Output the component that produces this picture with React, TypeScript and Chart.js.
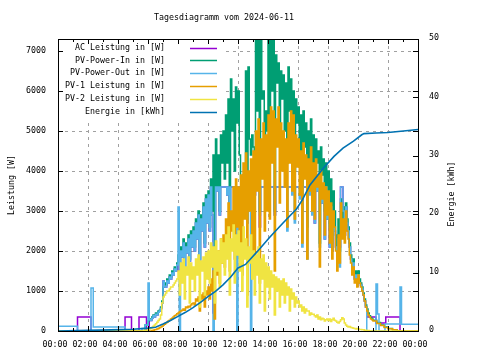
import React, { useEffect, useRef } from "react";
import { Chart, registerables } from "chart.js";
Chart.register(...registerables);

// ---------- texts & ticks ----------
const TITLE = "Tagesdiagramm vom 2024-06-11";
const Y_TITLE = "Leistung [W]";
const Y2_TITLE = "Energie [kWh]";
const X_TICKS = [0, 2, 4, 6, 8, 10, 12, 14, 16, 18, 20, 22, 24];
const X_TICK_LABELS = ["00:00", "02:00", "04:00", "06:00", "08:00", "10:00", "12:00", "14:00", "16:00", "18:00", "20:00", "22:00", "00:00"];
const Y_TICKS = [0, 1000, 2000, 3000, 4000, 5000, 6000, 7000];
const Y2_TICKS = [0, 10, 20, 30, 40, 50];
const Y_MAX = 7300;
const Y2_MAX = 50;
const SERIES_NAMES = ["AC Leistung in [W]", "PV-Power-In in [W]", "PV-Power-Out in [W]", "PV-1 Leistung in [W]", "PV-2 Leistung in [W]", "Energie in [kWh]"];
const SERIES_COLORS = ["#9400d3", "#009e73", "#56b4e9", "#e69f00", "#f0e442", "#0072b2"];

// ---------- data ----------
// daytime samples every 5 minutes from 06:00 to 20:55 (one row per hour)
const DAY_START_H = 6;
const DAY_STEP_H = 5 / 60;

const AC_DAY = [
  0, 280, 260, 320, 380, 350, 420, 400, 470, 500, 560, 700,
  1250, 1100, 1100, 1250, 1200, 1350, 1300, 1450, 1400, 1550, 1500, 1650,
  1500, 1350, 2000, 1850, 2200, 1550, 2100, 1950, 2300, 1750, 2400, 2100,
  2500, 2000, 2700, 2300, 2900, 1700, 2800, 2500, 3100, 2100, 3300, 2700,
  3400, 2500, 3600, 2900, 450, 1450, 3600, 3500, 3600, 2900, 3600, 3600,
  3600, 3600, 3600, 3400, 3600, 2900, 3600, 3600, 3600, 3600, 3600, 3600,
  3600, 3600, 3600, 2900, 3600, 3500, 3600, 2700, 3600, 3600, 3600, 3600,
  3600, 3400, 3600, 3600, 3600, 2600, 3600, 3600, 3600, 3600, 3600, 3600,
  3600, 3600, 3600, 3600, 3600, 2900, 3600, 3600, 3600, 3600, 3600, 3600,
  3600, 3600, 3600, 3600, 3600, 3600, 3600, 3600, 3600, 3600, 3600, 3600,
  3600, 3600, 3600, 3600, 3600, 3600, 3600, 3600, 3600, 3600, 3600, 3600,
  3600, 2700, 3600, 3500, 3600, 3600, 3600, 3200, 3600, 2300, 3600, 2800,
  3400, 2100, 3100, 2000, 2900, 2500, 2100, 1950, 2100, 2100, 3600, 3600,
  3000, 2400, 3100, 2700, 2500, 2100, 1800, 1500, 1700, 1300, 1400, 1200,
  1400, 1200, 1150, 1050, 900, 750, 600, 350, 350, 350, 350, 350,
];
const PV_IN_DAY = [
  250, 300, 280, 350, 400, 380, 450, 420, 500, 520, 600, 750,
  1100, 1200, 1150, 1300, 1250, 1400, 1350, 1500, 1450, 1600, 1550, 1700,
  1900, 1700, 2100, 1900, 2300, 1600, 2200, 2000, 2400, 1800, 2500, 2200,
  2600, 2100, 2800, 2400, 3000, 1800, 2900, 2600, 3200, 2200, 3400, 2800,
  3500, 2600, 3800, 3000, 4400, 1500, 4800, 3600, 4400, 3000, 4900, 4200,
  5000, 3800, 5400, 4200, 5800, 3000, 6300, 5000, 5800, 4000, 6100, 5200,
  6000, 4400, 3800, 3000, 3900, 3600, 6500, 2800, 6600, 4800, 4400, 4900,
  4600, 4100, 7500, 5500, 7500, 3000, 7400, 5800, 6000, 4000, 5500, 5000,
  7500, 4500, 7400, 6000, 7500, 3000, 6900, 6200, 6700, 4800, 6500, 5800,
  6400, 5000, 6200, 4200, 6600, 5500, 6300, 4800, 6000, 4000, 5800, 5200,
  5600, 4200, 5400, 3000, 5500, 4600, 5200, 2600, 5000, 4300, 5300, 3800,
  4900, 3500, 4800, 4200, 4500, 2200, 4600, 3900, 4300, 3000, 4200, 3500,
  4000, 2600, 3800, 2200, 3500, 3000, 2400, 1900, 2800, 2000, 3300, 2700,
  3100, 2500, 3200, 2800, 2600, 2200, 1900, 1600, 1800, 1400, 1500, 1300,
  1500, 1300, 1200, 1100, 950, 800, 650, 550, 450, 380, 330, 300,
];
const PV_OUT_DAY = [
  1200, 280, 260, 320, 380, 350, 420, 400, 470, 500, 560, 700,
  1250, 1100, 1100, 1250, 1200, 1350, 1300, 1450, 1400, 1550, 1500, 1650,
  3100, 0, 2000, 1850, 2200, 1550, 2100, 1950, 2300, 1750, 2400, 2100,
  2500, 2000, 2700, 2300, 2900, 1700, 2800, 2500, 3100, 2100, 3300, 2700,
  3400, 2500, 3600, 2900, 0, 1450, 3600, 3500, 3600, 2900, 3600, 3600,
  3600, 3600, 3600, 3400, 3600, 2900, 3600, 3600, 3600, 3600, 3600, 0,
  3600, 3600, 3600, 2900, 3600, 3500, 3600, 2700, 3600, 3600, 0, 3600,
  3600, 3400, 3600, 3600, 3600, 2900, 3600, 3600, 3600, 3600, 3600, 3600,
  3600, 3600, 3600, 3600, 3600, 2900, 3600, 3600, 3600, 3600, 3600, 3600,
  3600, 3600, 3600, 2500, 3600, 3600, 3600, 3400, 3600, 2700, 3600, 3600,
  3600, 3300, 3600, 2100, 3600, 3600, 3600, 1800, 3600, 3400, 3600, 2900,
  3600, 2700, 3600, 3500, 3600, 2100, 3600, 3200, 3600, 2300, 3600, 2800,
  3400, 2100, 3100, 2000, 2900, 2500, 2100, 1950, 2300, 1600, 3600, 3600,
  3000, 2400, 3100, 2700, 2500, 2100, 1800, 1500, 1700, 1300, 1400, 1200,
  1400, 1200, 1150, 1050, 900, 750, 600, 0, 0, 0, 0, 0,
];
const PV1_DAY = [
  0, 0, 0, 10, 20, 30, 40, 50, 60, 80, 100, 120,
  150, 170, 200, 220, 250, 270, 300, 320, 350, 380, 400, 430,
  450, 480, 500, 520, 550, 520, 600, 580, 620, 600, 650, 680,
  700, 650, 800, 750, 850, 500, 900, 800, 950, 600, 1000, 900,
  1100, 800, 1300, 1000, 1500, 300, 1800, 1400, 2000, 1200, 2300, 1700,
  2400, 1600, 2800, 2000, 3200, 1500, 3000, 2500, 3600, 1800, 3800, 2600,
  3600, 2200, 3900, 1400, 4200, 2800, 4450, 900, 4000, 3000, 4300, 2000,
  4500, 1800, 5000, 3500, 5300, 1200, 4800, 3800, 5200, 2500, 4900, 3000,
  5400, 2800, 5600, 4200, 5500, 1500, 5300, 4600, 5600, 3200, 5200, 4000,
  5000, 3600, 4800, 2600, 5200, 4200, 5500, 3500, 5400, 2800, 4900, 4100,
  4800, 3400, 4500, 2200, 4700, 3800, 4400, 1800, 4300, 3500, 4600, 3000,
  4200, 2800, 4300, 3600, 3900, 1600, 4000, 3300, 3700, 2400, 3600, 2900,
  3500, 2200, 3200, 1800, 3000, 2600, 2000, 1500, 2400, 1700, 3200, 2300,
  2800, 2200, 3000, 2500, 2300, 1900, 1700, 1400, 1600, 1200, 1300, 1100,
  1400, 1200, 1100, 1000, 900, 750, 600, 500, 400, 350, 300, 280,
];
const PV2_DAY = [
  30, 50, 70, 90, 120, 150, 180, 220, 260, 300, 400, 700,
  850, 900, 950, 1000, 1000, 1050, 1100, 1100, 1150, 1200, 1250, 1300,
  1500, 900, 1700, 1200, 1800, 800, 1600, 1400, 1850, 700, 1700, 1300,
  1600, 1000, 1800, 1400, 1900, 600, 1750, 1500, 1850, 900, 1950, 1300,
  2000, 1200, 2200, 1600, 2100, 700, 2250, 1500, 2000, 1100, 2300, 1700,
  2200, 1400, 2400, 1800, 2600, 900, 2300, 2000, 2650, 1200, 2400, 1900,
  2500, 1500, 2200, 1000, 2600, 1800, 2300, 600, 2100, 1700, 2400, 1300,
  2000, 900, 1900, 1400, 2100, 700, 1800, 1300, 1900, 500, 1700, 1100,
  1600, 800, 1500, 1100, 1400, 400, 1350, 1000, 1300, 600, 1250, 900,
  1300, 700, 1200, 900, 1100, 500, 1050, 800, 950, 600, 850, 700,
  750, 600, 650, 500, 600, 450, 550, 500, 500, 400, 450, 420,
  420, 380, 350, 400, 300, 350, 280, 320, 300, 250, 280, 300,
  260, 300, 240, 280, 320, 270, 250, 220, 200, 240, 280, 330,
  300, 200, 150, 120, 100, 110, 90, 80, 70, 60, 50, 60,
  50, 40, 40, 30, 30, 20, 20, 10, 10, 5, 0, 0,
];

// night samples [hour, value]
const AC_AM = [[0, 0], [1.3, 350], [2.2, 0], [4.47, 350], [4.9, 0], [5.4, 350], [5.9, 0]];
const AC_PM = [[21, 350], [21.2, 200], [21.85, 350], [22.8, 0], [24, 0]];
const PV_IN_AM = [[0, 0], [5.6, 0], [5.8, 150]];
const PV_IN_PM = [[21, 270], [21.25, 210], [21.5, 150], [21.75, 100], [22, 60], [22.3, 30], [22.6, 0], [24, 0]];
const PV_OUT_AM = [[0, 120], [1.3, 0], [2.2, 1075], [2.35, 100], [4.47, 0], [5.6, 60], [5.8, 150]];
const PV_OUT_PM = [[21, 0], [21.2, 1175], [21.3, 425], [21.4, 0], [21.8, 175], [22.8, 1100], [22.9, 170], [24, 170]];
const PV1_AM = [[0, 0], [5.8, 0]];
const PV1_PM = [[21, 250], [21.25, 190], [21.5, 140], [21.75, 90], [22, 55], [22.3, 30], [22.6, 0], [24, 0]];
const PV2_AM = [[0, 0], [5.7, 20]];
const PV2_PM = [[21, 0], [24, 0]];

const ENERGY_HOURS = [0, 2, 3.5, 5, 6, 6.5, 7, 7.5, 8, 8.5, 9, 9.5, 10, 10.5, 11, 11.5, 12, 12.5, 13.25, 14.1, 15, 15.9, 16.3, 16.8, 17.7, 18.4, 19, 19.7, 20.25, 20.4, 21.2, 22, 23.2, 24];
const ENERGY_KWH = [0, 0.1, 0.2, 0.3, 0.5, 0.65, 1.2, 1.8, 2.5, 3.2, 4.0, 4.9, 5.9, 6.8, 7.9, 9.2, 10.8, 11.4, 13.5, 16.0, 18.5, 20.9, 22.5, 25.0, 27.9, 29.9, 31.3, 32.5, 33.6, 33.8, 33.9, 34.0, 34.3, 34.5];

// ---------- helpers ----------
type P = { x: number; y: number };
function buildSeries(am: number[][], day: number[], pm: number[][]): P[] {
  const pts: P[] = [];
  am.forEach(([x, y]) => pts.push({ x, y }));
  day.forEach((y, i) => pts.push({ x: DAY_START_H + i * DAY_STEP_H, y }));
  pm.forEach(([x, y]) => pts.push({ x, y }));
  return pts;
}

const FONT = '8.3px "DejaVu Sans Mono", monospace';

const decor = {
  id: "gpDecor",
  beforeDatasetsDraw(chart: any) {
    const { ctx, chartArea: a, scales } = chart;
    const xs = scales.x, ys = scales.y;
    ctx.save();
    ctx.strokeStyle = "#a0a0a0";
    ctx.lineWidth = 1;
    ctx.setLineDash([3, 4]);
    ctx.beginPath();
    for (const v of Y_TICKS) {
      if (v <= 0) continue;
      const py = Math.round(ys.getPixelForValue(v)) + 0.5;
      ctx.moveTo(a.left, py);
      ctx.lineTo(a.right, py);
    }
    for (const v of X_TICKS) {
      if (v <= 0 || v >= 24) continue;
      const px = Math.round(xs.getPixelForValue(v)) + 0.5;
      ctx.moveTo(px, a.top);
      ctx.lineTo(px, a.bottom);
    }
    ctx.stroke();
    ctx.restore();
  },
  afterDatasetsDraw(chart: any) {
    const { ctx, chartArea: a, scales } = chart;
    const xs = scales.x, ys = scales.y, y2 = scales.y2;
    ctx.save();
    // key box (opaque)
    ctx.fillStyle = "#ffffff";
    ctx.fillRect(a.left + 1, a.top + 1, 164, 80);
    // border
    ctx.strokeStyle = "#000";
    ctx.lineWidth = 1;
    ctx.setLineDash([]);
    ctx.strokeRect(a.left + 0.5, a.top + 0.5, a.right - a.left, a.bottom - a.top);
    // ticks
    ctx.beginPath();
    for (let h = 0; h <= 24; h++) {
      const px = Math.round(xs.getPixelForValue(h)) + 0.5;
      const len = h % 2 === 0 ? 5 : 3;
      ctx.moveTo(px, a.bottom);
      ctx.lineTo(px, a.bottom - len);
      ctx.moveTo(px, a.top);
      ctx.lineTo(px, a.top + len);
    }
    for (const v of Y_TICKS) {
      const py = Math.round(ys.getPixelForValue(v)) + 0.5;
      ctx.moveTo(a.left, py);
      ctx.lineTo(a.left + 5, py);
      ctx.moveTo(a.right, py);
      ctx.lineTo(a.right - 5, py);
    }
    for (const v of Y2_TICKS) {
      const py = Math.round(y2.getPixelForValue(v)) + 0.5;
      ctx.moveTo(a.right, py);
      ctx.lineTo(a.right - 5, py);
    }
    ctx.stroke();

    // texts
    ctx.fillStyle = "#000";
    ctx.font = FONT;
    ctx.textBaseline = "middle";
    ctx.textAlign = "right";
    Y_TICKS.forEach((v) => ctx.fillText(String(v), a.left - 12, ys.getPixelForValue(v)));
    ctx.textAlign = "left";
    Y2_TICKS.forEach((v) => ctx.fillText(String(v), a.right + 11, y2.getPixelForValue(v) - 1));
    ctx.textAlign = "center";
    X_TICKS.forEach((v, i) => ctx.fillText(X_TICK_LABELS[i], xs.getPixelForValue(v) - 3, a.bottom + 14));
    ctx.fillText(TITLE, 224, 18);

    ctx.save();
    ctx.translate(12, 185);
    ctx.rotate(-Math.PI / 2);
    ctx.fillText(Y_TITLE, 0, 0);
    ctx.restore();
    ctx.save();
    ctx.translate(452, 194);
    ctx.rotate(-Math.PI / 2);
    ctx.fillText(Y2_TITLE, 0, 0);
    ctx.restore();

    // key
    ctx.textAlign = "right";
    SERIES_NAMES.forEach((name, i) => {
      const yy = 47.5 + i * 12.9;
      ctx.fillStyle = "#000";
      ctx.fillText(name, 165, yy);
      ctx.strokeStyle = SERIES_COLORS[i];
      ctx.lineWidth = 1.5;
      ctx.beginPath();
      ctx.moveTo(190, Math.round(yy) + 0.5);
      ctx.lineTo(217, Math.round(yy) + 0.5);
      ctx.stroke();
    });
    ctx.restore();
  },
};

export default function App() {
  const ref = useRef<HTMLCanvasElement>(null);
  useEffect(() => {
    document.body.style.margin = "0";
    const energy = ENERGY_HOURS.map((x, i) => ({ x, y: ENERGY_KWH[i] }));
    const mk = (i: number, data: P[], order: number) => ({
      label: SERIES_NAMES[i],
      data,
      borderColor: SERIES_COLORS[i],
      backgroundColor: SERIES_COLORS[i],
      borderWidth: 1.5,
      pointRadius: 0,
      fill: false,
      stepped: "before" as const,
      yAxisID: "y",
      order,
    });
    const chart = new Chart(ref.current!, {
      type: "line",
      data: {
        datasets: [
          mk(0, buildSeries(AC_AM, AC_DAY, AC_PM), 6),
          mk(1, buildSeries(PV_IN_AM, PV_IN_DAY, PV_IN_PM), 5),
          mk(2, buildSeries(PV_OUT_AM, PV_OUT_DAY, PV_OUT_PM), 4),
          mk(3, buildSeries(PV1_AM, PV1_DAY, PV1_PM), 3),
          mk(4, buildSeries(PV2_AM, PV2_DAY, PV2_PM), 2),
          {
            label: SERIES_NAMES[5],
            data: energy,
            borderColor: SERIES_COLORS[5],
            backgroundColor: SERIES_COLORS[5],
            borderWidth: 1.6,
            pointRadius: 0,
            fill: false,
            tension: 0,
            yAxisID: "y2",
            order: 1,
          },
        ] as any,
      },
      options: {
        responsive: false,
        animation: false,
        devicePixelRatio: 1,
        events: [],
        layout: { padding: { left: 58, right: 62, top: 39, bottom: 29 } },
        plugins: { legend: { display: false }, tooltip: { enabled: false }, title: { display: false } },
        scales: {
          x: { type: "linear", min: 0, max: 24, display: false },
          y: { type: "linear", min: 0, max: Y_MAX, display: false },
          y2: { type: "linear", min: 0, max: Y2_MAX, display: false, position: "right" },
        },
      },
      plugins: [decor],
    });
    return () => chart.destroy();
  }, []);
  return (
    <div style={{ width: 480, height: 360 }}>
      <canvas ref={ref} width={480} height={360} style={{ display: "block" }} />
    </div>
  );
}
